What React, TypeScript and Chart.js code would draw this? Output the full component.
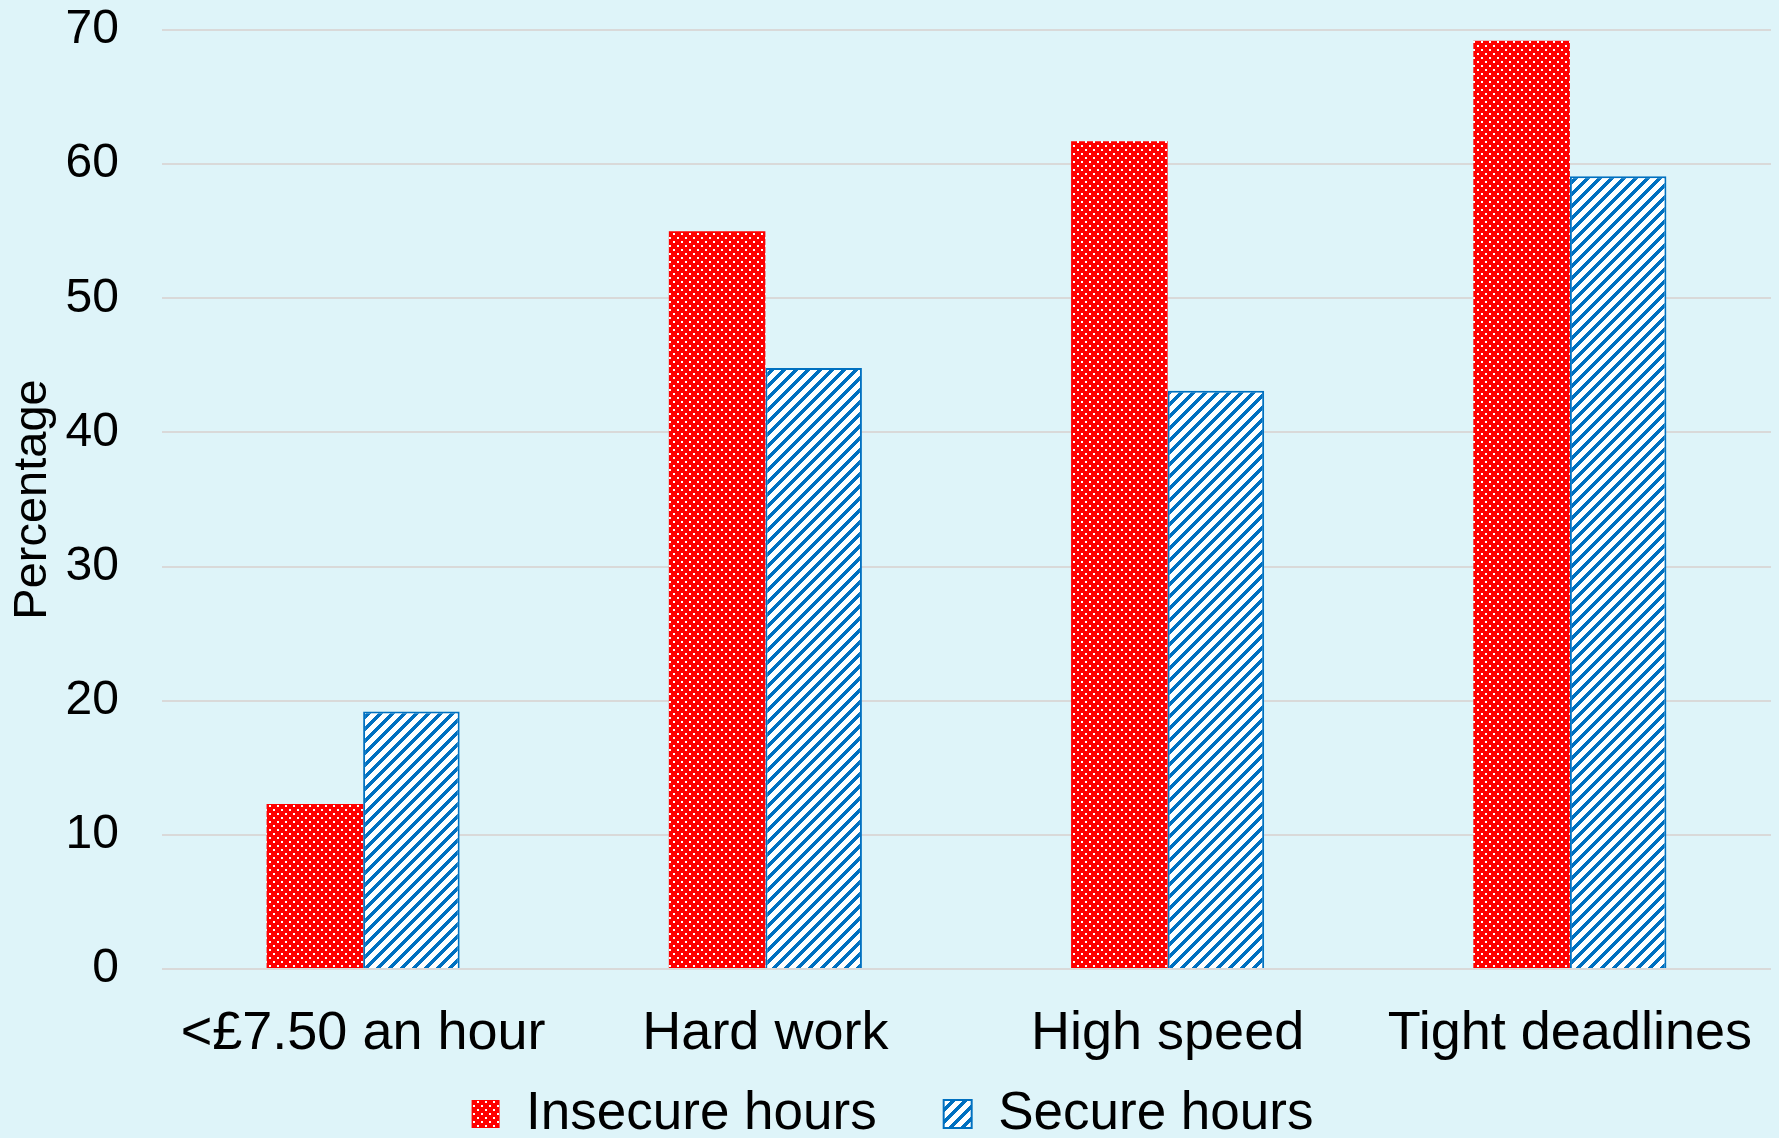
import React, { useEffect, useRef } from "react";
import { Chart, registerables } from "chart.js";

Chart.register(...registerables);

const categories = ["<£7.50 an hour", "Hard work", "High speed", "Tight deadlines"];
const seriesNames = ["Insecure hours", "Secure hours"];
const insecureHours = [12.3, 55.0, 61.7, 69.2];
const secureHours = [19.2, 44.8, 43.1, 59.1];
const yTicks = [0, 10, 20, 30, 40, 50, 60, 70];

const BG = "#def4f9";
const RED = "#ff0000";
const BLUE = "#0070c0";
const FONT = "'Liberation Sans', Arial, sans-serif";

function dotPattern(ctx: CanvasRenderingContext2D) {
  const c = document.createElement("canvas");
  c.width = 8;
  c.height = 8;
  const g = c.getContext("2d")!;
  g.fillStyle = RED;
  g.fillRect(0, 0, 8, 8);
  g.fillStyle = "#ffffff";
  g.fillRect(1, 1, 2, 2);
  g.fillRect(5, 5, 2, 2);
  return ctx.createPattern(c, "repeat")!;
}

function hatchPattern(ctx: CanvasRenderingContext2D) {
  const P = 12;
  const c = document.createElement("canvas");
  c.width = P;
  c.height = P;
  const g = c.getContext("2d")!;
  g.fillStyle = "#ffffff";
  g.fillRect(0, 0, P, P);
  g.fillStyle = BLUE;
  for (let y = 0; y < P; y++) {
    for (let j = 0; j < 5; j++) {
      const x = (P - 1 - y + j + P) % P;
      g.fillRect(x, y, 1, 1);
    }
  }
  return ctx.createPattern(c, "repeat")!;
}

const legendPlacement = {
  id: "legendPlacement",
  afterLayout(chart: any) {
    const lg = chart.legend;
    if (!lg) return;
    const pad = lg.options.labels.padding;
    const fontSize = lg.options.labels.font.size;
    const desiredTop = chart.height - 24 - fontSize / 2 - pad;
    lg.top = desiredTop;
    lg.bottom = chart.height;
    lg.left += 7;
    lg.right += 7;
  },
};

export default function App() {
  const ref = useRef<HTMLCanvasElement>(null);

  useEffect(() => {
    document.body.style.margin = "0";
    document.body.style.background = BG;
    const canvas = ref.current!;
    const ctx = canvas.getContext("2d")!;
    const chart = new Chart(ctx, {
      type: "bar",
      data: {
        labels: categories,
        datasets: [
          {
            label: seriesNames[0],
            data: insecureHours,
            backgroundColor: dotPattern(ctx),
            borderWidth: 0,
            categoryPercentage: 0.48,
            barPercentage: 1.0,
          },
          {
            label: seriesNames[1],
            data: secureHours,
            backgroundColor: hatchPattern(ctx),
            borderColor: BLUE,
            borderWidth: 2,
            categoryPercentage: 0.48,
            barPercentage: 1.0,
          },
        ],
      },
      plugins: [legendPlacement],
      options: {
        animation: false,
        responsive: false,
        devicePixelRatio: 1,
        layout: { padding: { top: 0, right: 8, bottom: 0, left: 0 } },
        plugins: {
          tooltip: { enabled: false },
          title: { display: false },
          legend: {
            display: true,
            position: "bottom",
            maxHeight: 73,
            labels: {
              color: "#000",
              font: { family: FONT, size: 53 },
              boxWidth: 28,
              boxHeight: 28,
              padding: 67,
            },
          },
        },
        scales: {
          x: {
            grid: { display: false, drawTicks: false },
            border: { display: false },
            ticks: {
              color: "#000",
              font: { family: FONT, size: 54 },
              padding: 33,
              maxRotation: 0,
              minRotation: 0,
              autoSkip: false,
            },
            afterFit: (scale: any) => {
              scale.height = 96;
              scale.paddingLeft = 0;
              scale.paddingRight = 0;
            },
          },
          y: {
            min: 0,
            max: 70,
            grid: { color: "#d9d9d9", lineWidth: 2, drawTicks: false },
            border: { display: false },
            ticks: {
              color: "#000",
              font: { family: FONT, size: 48 },
              padding: 43,
              stepSize: 10,
            },
            afterBuildTicks: (scale: any) => {
              scale.ticks = yTicks.map((v) => ({ value: v }));
            },
            afterFit: (scale: any) => {
              scale.width = 162;
              scale.paddingTop = 30;
              scale.paddingBottom = 0;
            },
            title: {
              display: true,
              text: "Percentage",
              color: "#000",
              font: { family: FONT, size: 47 },
              padding: { top: 5, bottom: 0 },
            },
          },
        },
      },
    } as any);
    return () => chart.destroy();
  }, []);

  return (
    <div style={{ width: 1779, height: 1138, background: BG, overflow: "hidden" }}>
      <canvas
        ref={ref}
        width={1779}
        height={1138}
        style={{ display: "block", width: 1779, height: 1138 }}
      />
    </div>
  );
}
